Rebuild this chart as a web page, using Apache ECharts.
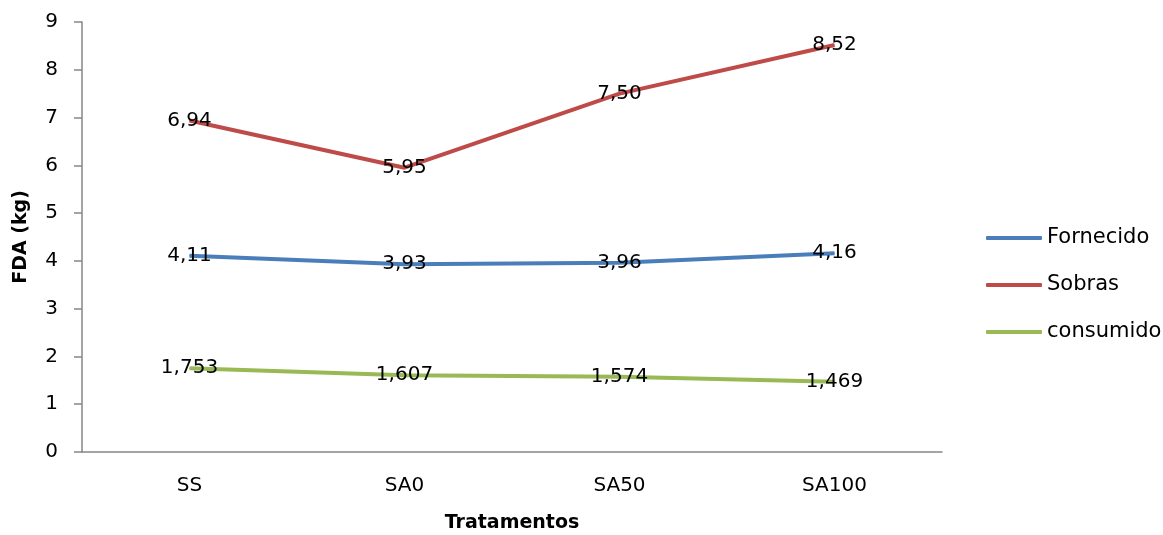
<!DOCTYPE html>
<html>
<head>
<meta charset="utf-8">
<script src="https://cdn.jsdelivr.net/npm/echarts@6/dist/echarts.min.js"></script>
<style>
  html, body { margin: 0; padding: 0; background: #fff; }
  #chart { width: 1163px; height: 535px; }
</style>
</head>
<body>
<div id="chart"></div>
<script>
// tratamentos
var categories = ['SS', 'SA0', 'SA50', 'SA100'];
var fornecido = [4.11, 3.93, 3.96, 4.16];
var sobras = [6.94, 5.95, 7.50, 8.52];
var consumido = [1.753, 1.607, 1.574, 1.469];
var yTicks = [0, 1, 2, 3, 4, 5, 6, 7, 8, 9];

var font = "'DejaVu Sans', sans-serif";

// virgula como separador decimal
function fmt(digits) {
    return function (p) {
        return p.value.toFixed(digits).replace('.', ',');
    };
}

function makeSeries(name, data, color, digits) {
    return {
        name: name,
        type: 'line',
        data: data,
        symbol: 'circle',
        symbolSize: 1,
        showSymbol: true,
        lineStyle: { width: 4, color: color },
        itemStyle: { color: color },
        label: {
            show: true,
            position: 'inside',
            color: '#000',
            fontFamily: font,
            fontSize: 20,
            formatter: fmt(digits)
        },
        z: 2
    };
}

var chart = echarts.init(document.getElementById('chart'));
chart.setOption({
    backgroundColor: '#fff',
    animation: false,
    grid: { left: 82, right: 221, top: 22, bottom: 83, outerBoundsMode: 'none', containLabel: false },
    legend: {
        orient: 'vertical',
        left: 981,
        top: 222,
        itemWidth: 56,
        itemHeight: 4,
        itemGap: 25,
        icon: 'roundRect',
        textStyle: { fontFamily: font, fontSize: 21, color: '#000', lineHeight: 22 },
        data: ['Fornecido', 'Sobras', 'consumido']
    },
    xAxis: {
        type: 'category',
        data: categories,
        boundaryGap: true,
        name: 'Tratamentos',
        nameLocation: 'middle',
        nameGap: 62,
        nameTextStyle: { fontFamily: font, fontSize: 19, fontWeight: 'bold', color: '#000' },
        axisLine: { lineStyle: { color: '#868686', width: 1.5 } },
        axisTick: { show: false },
        axisLabel: { fontFamily: font, fontSize: 20, color: '#000', margin: 24 }
    },
    yAxis: {
        type: 'value',
        min: yTicks[0],
        max: yTicks[yTicks.length - 1],
        interval: 1,
        name: 'FDA (kg)',
        nameLocation: 'middle',
        nameGap: 51,
        nameTextStyle: { fontFamily: font, fontSize: 19, fontWeight: 'bold', color: '#000' },
        axisLine: { show: true, lineStyle: { color: '#868686', width: 1.5 } },
        axisTick: { show: true, length: 8, lineStyle: { color: '#868686', width: 1.5 } },
        splitLine: { show: false },
        axisLabel: { fontFamily: font, fontSize: 20, color: '#000', margin: 24 }
    },
    series: [
        makeSeries('Fornecido', fornecido, '#4a7ebb', 2),
        makeSeries('Sobras', sobras, '#be4b48', 2),
        makeSeries('consumido', consumido, '#98b954', 3)
    ]
});
</script>
</body>
</html>
